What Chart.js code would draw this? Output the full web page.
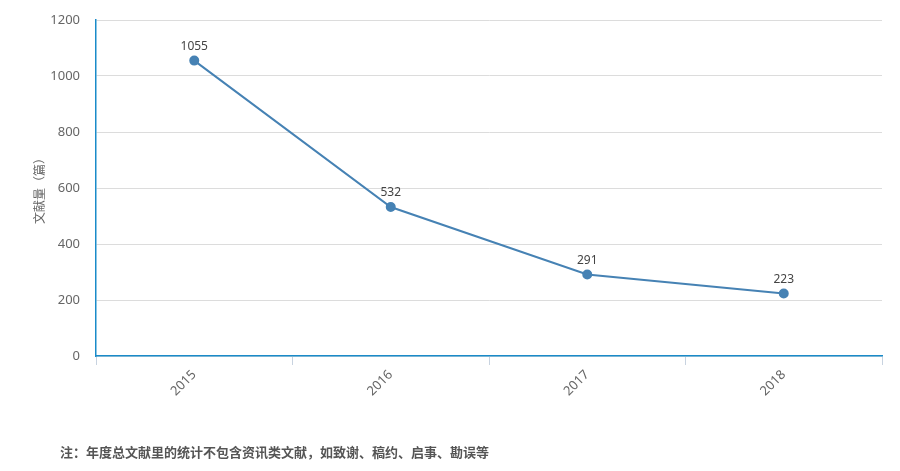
<!DOCTYPE html>
<html>
<head>
<meta charset="utf-8">
<script src="https://cdn.jsdelivr.net/npm/chart.js@4"></script>
<style>
  body { margin: 0; background: #fff; }
  #wrap { position: relative; width: 900px; height: 471px; }
  #note {
    position: absolute; left: 60px; top: 442px;
    font: bold 13px "Noto Sans CJK SC", sans-serif; color: #555;
  }
</style>
</head>
<body>
<div id="wrap">
  <canvas id="grafico" width="900" height="471"></canvas>
  <div id="note">注：年度总文献里的统计不包含资讯类文献，如致谢、稿约、启事、勘误等</div>
</div>
<script>
const anios = ["2015", "2016", "2017", "2018"];
const cantidad = [1055, 532, 291, 223];
const yTicks = [0, 200, 400, 600, 800, 1000, 1200];

// dibuja el valor encima de cada punto
const etiquetas = {
  id: "etiquetas",
  afterDatasetsDraw(chart) {
    const ctx = chart.ctx;
    const meta = chart.getDatasetMeta(0);
    ctx.save();
    ctx.font = '12px "Noto Sans", "Noto Sans CJK SC", sans-serif';
    ctx.fillStyle = "#444";
    ctx.textAlign = "center";
    ctx.textBaseline = "bottom";
    meta.data.forEach((p, i) => {
      ctx.fillText(String(cantidad[i]), p.x, p.y - 8);
    });
    ctx.restore();
  }
};

const fuente = { family: '"Noto Sans", "Noto Sans CJK SC", sans-serif', size: 13 };

new Chart(document.getElementById("grafico").getContext("2d"), {
  type: "line",
  data: {
    labels: anios,
    datasets: [{
      data: cantidad,
      borderColor: "#4682b4",
      backgroundColor: "#4682b4",
      borderWidth: 2,
      pointRadius: 4,
      pointHoverRadius: 4,
      tension: 0
    }]
  },
  options: {
    responsive: false,
    animation: false,
    layout: { padding: { top: 20, right: 18, bottom: 0, left: 0 } },
    plugins: { legend: { display: false }, tooltip: { enabled: false } },
    scales: {
      x: {
        offset: true,
        afterFit: s => { s.height = 115; },
        grid: { offset: true, drawOnChartArea: false, tickLength: 9, color: "#c8d3e0" },
        border: { color: "#1a8bc9", width: 1.5 },
        ticks: { color: "#666", font: fuente, minRotation: 45, maxRotation: 45, padding: 2 }
      },
      y: {
        min: 0, max: 1200,
        afterFit: s => { s.width = 96; s.paddingTop = 0; s.paddingBottom = 0; },
        afterBuildTicks: s => { s.ticks = yTicks.map(v => ({ value: v })); },
        grid: { color: "#dcdcdc", drawTicks: false },
        border: { color: "#1a8bc9", width: 1.5 },
        ticks: { color: "#666", font: fuente, padding: 16, callback: v => String(v) },
        title: {
          display: true,
          text: "文献量（篇）",
          color: "#666",
          font: { family: '"Noto Sans CJK SC", sans-serif', size: 12 },
          padding: { top: 32 }
        }
      }
    }
  },
  plugins: [etiquetas]
});
</script>
</body>
</html>
